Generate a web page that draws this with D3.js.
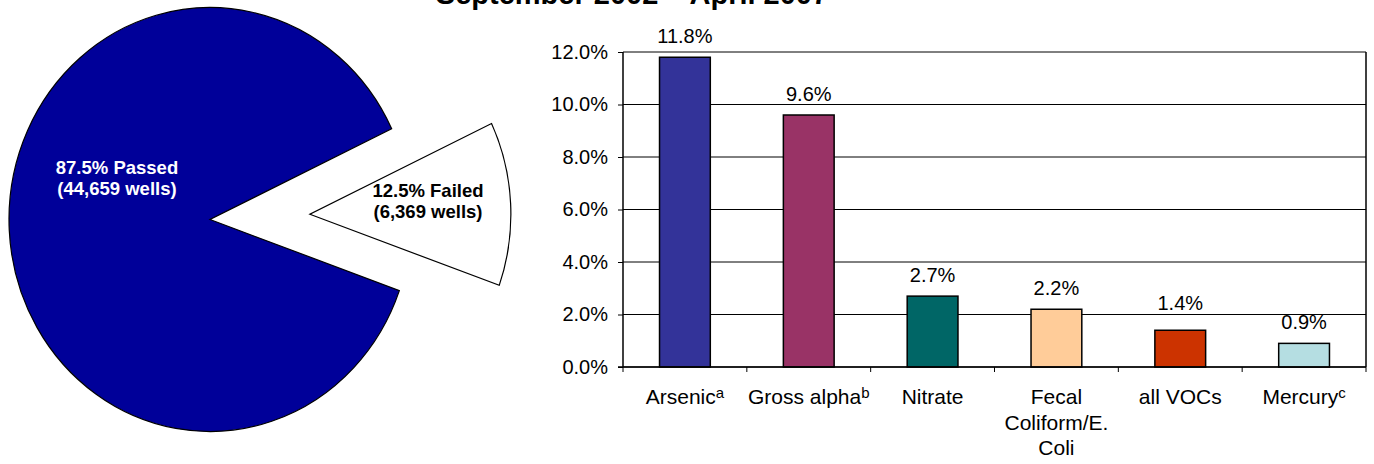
<!DOCTYPE html>
<html>
<head>
<meta charset="utf-8">
<script src="https://cdn.jsdelivr.net/npm/d3@7"></script>
<style>
  html, body { margin: 0; padding: 0; background: #fff; }
  svg { display: block; font-family: "Liberation Sans", Arial, Helvetica, sans-serif; }
</style>
</head>
<body>
<svg id="chart" width="1374" height="464"></svg>
<script>
// Well test outcomes (pie)
const outcomeNames = ["Passed", "Failed"];
const outcomeWells = [44659, 6369];
const outcomePercents = [87.5, 12.5];
const outcomeColors = ["#000099", "#ffffff"];
const outcomeTextColors = ["#ffffff", "#000000"];

// Share of wells failing by contaminant (bars)
const contaminants = ["Arsenic", "Gross alpha", "Nitrate", "Fecal Coliform/E. Coli", "all VOCs", "Mercury"];
const contaminantLines = [["Arsenic"], ["Gross alpha"], ["Nitrate"], ["Fecal", "Coliform/E.", "Coli"], ["all VOCs"], ["Mercury"]];
const footnoteMarks = ["a", "b", "", "", "", "c"];
const failRates = [11.8, 9.6, 2.7, 2.2, 1.4, 0.9];
const barColors = ["#333399", "#993366", "#006666", "#ffcc99", "#cc3300", "#b5dee2"];
const yTickValues = [0, 2, 4, 6, 8, 10, 12];

const svg = d3.select("#chart");
const FONT = 20;
const XFONT = 21;

// ---- Title (second line of the heading, partly above the top edge) ----
svg.append("text")
  .attr("x", 632).attr("y", 4)
  .attr("text-anchor", "middle")
  .attr("font-size", 29).attr("font-weight", "bold")
  .text("September 2002 \u2013 April 2007");

// ---- Pie ----
const pieCx = 210, pieCy = 219.5, pieR = 201, pieSy = 212 / 201;
const pieData = outcomeNames.map((n, i) => ({ name: n, wells: outcomeWells[i], pct: outcomePercents[i], i }));
const arcs = d3.pie()
  .sort(null)
  .value(d => d.wells)
  .startAngle(109.6 * Math.PI / 180)
  .endAngle(109.6 * Math.PI / 180 + 2 * Math.PI)(pieData);
const arcGen = d3.arc().innerRadius(0).outerRadius(pieR);
const explode = 100;

const pieG = svg.append("g").attr("transform", `translate(${pieCx},${pieCy}) scale(1,${pieSy})`);
pieG.selectAll("path.slice")
  .data(arcs)
  .join("path")
  .attr("class", "slice")
  .attr("d", arcGen)
  .attr("transform", d => {
    if (d.data.name !== "Failed") return null;
    const mid = (d.startAngle + d.endAngle) / 2;
    return `translate(${explode * Math.sin(mid)},${-explode * Math.cos(mid)})`;
  })
  .attr("fill", d => outcomeColors[d.data.i])
  .attr("stroke", "#000")
  .attr("stroke-width", 1.2)
  .attr("vector-effect", "non-scaling-stroke");

const pieLabelPos = [[117, 174], [428, 197]];
const fmt = d3.format(",");
pieData.forEach((d, i) => {
  const t = svg.append("text")
    .attr("text-anchor", "middle")
    .attr("font-size", 18.5).attr("font-weight", "bold")
    .attr("fill", outcomeTextColors[i]);
  t.append("tspan").attr("x", pieLabelPos[i][0]).attr("y", pieLabelPos[i][1])
    .text(`${d.pct}% ${d.name}`);
  t.append("tspan").attr("x", pieLabelPos[i][0]).attr("y", pieLabelPos[i][1] + 21)
    .text(`(${fmt(d.wells)} wells)`);
});

// ---- Bar chart ----
const plot = { left: 623, right: 1366, top: 52, bottom: 367 };
const x = d3.scaleBand().domain(contaminants).range([plot.left, plot.right]).paddingInner(0.59).paddingOuter(0.295);
const y = d3.scaleLinear().domain([0, 12]).range([plot.bottom, plot.top]);

// gridlines
svg.append("g")
  .selectAll("line")
  .data(yTickValues)
  .join("line")
  .attr("x1", plot.left).attr("x2", plot.right)
  .attr("y1", d => y(d)).attr("y2", d => y(d))
  .attr("stroke", "#000").attr("stroke-width", 1);

// right border
svg.append("line")
  .attr("x1", plot.right).attr("x2", plot.right)
  .attr("y1", plot.top).attr("y2", plot.bottom)
  .attr("stroke", "#000").attr("stroke-width", 1.5);

// bars
svg.append("g")
  .selectAll("rect")
  .data(contaminants)
  .join("rect")
  .attr("x", d => x(d))
  .attr("width", x.bandwidth())
  .attr("y", (d, i) => y(failRates[i]))
  .attr("height", (d, i) => y(0) - y(failRates[i]))
  .attr("fill", (d, i) => barColors[i])
  .attr("stroke", "#000").attr("stroke-width", 1.5);

// value labels; a label whose baseline would sit on a gridline is lifted above it
function labelBaseline(v) {
  let b = y(v) - 14.5;
  yTickValues.forEach(t => {
    const gy = y(t);
    if (gy >= b - 4 && gy <= b + 3) b = gy - 5;
  });
  return b;
}
svg.append("g")
  .selectAll("text")
  .data(contaminants)
  .join("text")
  .attr("x", d => x(d) + x.bandwidth() / 2)
  .attr("y", (d, i) => labelBaseline(failRates[i]))
  .attr("text-anchor", "middle")
  .attr("font-size", FONT)
  .text((d, i) => failRates[i].toFixed(1) + "%");

// y axis
const yAxis = svg.append("g")
  .attr("transform", `translate(${plot.left},0)`)
  .call(d3.axisLeft(y).tickValues(yTickValues).tickSize(5).tickPadding(10).tickFormat(d => d.toFixed(1) + "%"));
yAxis.select(".domain").attr("stroke", "#000").attr("stroke-width", 1.5).attr("d", `M0,${plot.top}V${plot.bottom}`);
yAxis.selectAll(".tick line").attr("stroke", "#000");
yAxis.selectAll(".tick text").attr("font-size", FONT).attr("font-family", null).attr("fill", "#000");

// x axis: ticks at category boundaries
const boundaries = contaminants.map(c => x(c) - x.step() * x.paddingInner() / 2).concat([plot.right]);
const xAxis = svg.append("g");
xAxis.append("line")
  .attr("x1", plot.left - 5).attr("x2", plot.right)
  .attr("y1", plot.bottom).attr("y2", plot.bottom)
  .attr("stroke", "#000").attr("stroke-width", 1.5);
xAxis.selectAll("line.tk")
  .data(boundaries)
  .join("line")
  .attr("class", "tk")
  .attr("x1", d => d).attr("x2", d => d)
  .attr("y1", plot.bottom).attr("y2", plot.bottom + 5)
  .attr("stroke", "#000").attr("stroke-width", 1);

// category labels
contaminants.forEach((c, i) => {
  const cx = x(c) + x.bandwidth() / 2;
  const lines = contaminantLines[i];
  const t = svg.append("text")
    .attr("text-anchor", "middle")
    .attr("font-size", XFONT);
  lines.forEach((ln, j) => {
    t.append("tspan").attr("x", cx).attr("y", 404 + j * 25.5).text(ln);
  });
  if (footnoteMarks[i]) {
    t.append("tspan")
      .attr("font-size", 15)
      .attr("dy", -6)
      .text(footnoteMarks[i]);
  }
});
</script>
</body>
</html>
